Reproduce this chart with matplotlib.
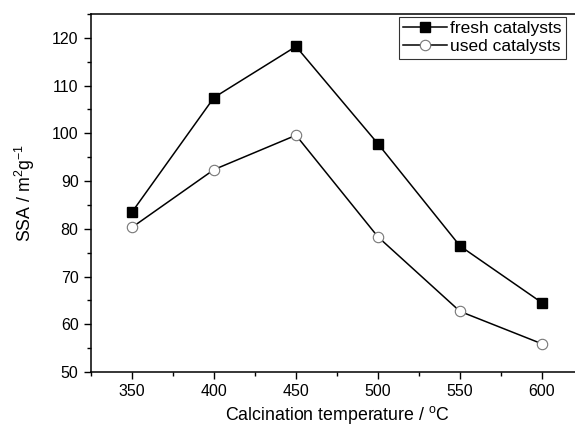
import matplotlib
matplotlib.use("Agg")
import matplotlib.pyplot as plt
from matplotlib.ticker import MultipleLocator

plt.rcParams['font.family'] = ['Liberation Sans', 'DejaVu Sans']

temps = [350, 400, 450, 500, 550, 600]
fresh = [83.5, 107.5, 118.2, 97.8, 76.4, 64.5]
used = [80.3, 92.4, 99.6, 78.3, 62.7, 55.9]

fig = plt.figure(figsize=(5.75, 4.3), dpi=100)
ax = fig.add_axes([91/575, 1-372/430, (583-91)/575, (372-14)/430])

ax.plot(temps, fresh, color='black', lw=1.1, marker='s', ms=6.5,
        mfc='black', mec='black', label='fresh catalysts')
ax.plot(temps, used, color='black', lw=1.1, marker='o', ms=7.5,
        mfc='white', mec='#777777', mew=0.8, label='used catalysts')

ax.set_xlim(325, 625)
ax.set_ylim(50, 125)
ax.xaxis.set_major_locator(MultipleLocator(50))
ax.xaxis.set_minor_locator(MultipleLocator(25))
ax.yaxis.set_major_locator(MultipleLocator(10))
ax.yaxis.set_minor_locator(MultipleLocator(5))
ax.tick_params(which='major', direction='out', length=5, width=1, labelsize=11.5,
               top=False, right=False, pad=4)
ax.tick_params(which='minor', direction='out', length=3, width=1, top=False, right=False)
for s in ax.spines.values():
    s.set_linewidth(1.1)

ax.set_xlabel('Calcination temperature / $^\\mathregular{o}$C', fontsize=12.8, labelpad=3)
ax.set_ylabel('SSA / m$^\\mathregular{2}$g$^\\mathregular{-1}$', fontsize=12.8, labelpad=11)

leg = ax.legend(loc='upper left', bbox_to_anchor=((399-91)/492, 1-(17-14)/358),
                fontsize=12.5, frameon=True, fancybox=False, edgecolor='black',
                handlelength=2.5, handletextpad=0.2, borderpad=0.25, labelspacing=0.15,
                borderaxespad=0)
leg.get_frame().set_linewidth(0.8)

fig.savefig('out.png', dpi=100)
